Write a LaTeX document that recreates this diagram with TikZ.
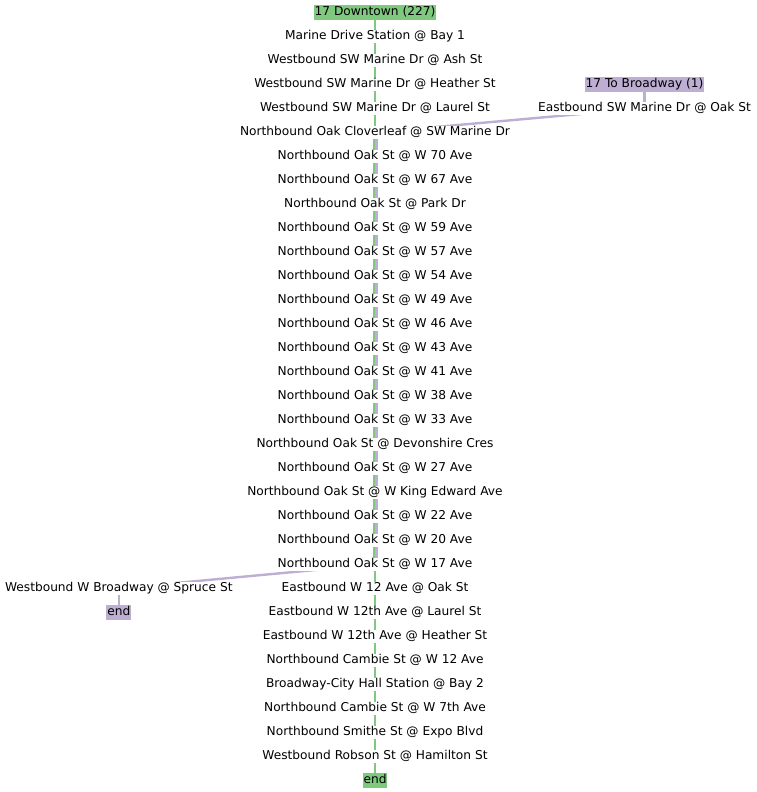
\documentclass[tikz,border=0pt]{standalone}
\usepackage{fontspec}
\setmainfont{DejaVu Sans}
\usetikzlibrary{backgrounds}
\definecolor{rgreen}{HTML}{7FC97F}
\definecolor{rpurple}{HTML}{BEAED4}
\begin{document}
\begin{tikzpicture}[x=1pt,y=-1pt,
  stop/.style={fill=white, inner xsep=1pt, inner ysep=0.3pt, text height=9.2pt, text depth=2.9pt, font=\fontsize{12.2pt}{14pt}\selectfont},
  glabel/.style={stop, inner ysep=1.5pt, fill=rgreen},
  plabel/.style={stop, inner ysep=1.5pt, fill=rpurple},
  gline/.style={draw=rgreen, line width=2.4pt},
  pline/.style={draw=rpurple, line width=2.4pt}]
\useasboundingbox (0,0) rectangle (756,792);
\begin{scope}[yshift=-0.8pt]
\node[glabel] (n0) at (375,11.5) {17 Downtown (227)};
\node[stop] (n1) at (375,35.5) {Marine Drive Station @ Bay 1};
\node[stop] (n2) at (375,59.5) {Westbound SW Marine Dr @ Ash St};
\node[stop] (n3) at (375,83.5) {Westbound SW Marine Dr @ Heather St};
\node[stop] (n4) at (375,107.5) {Westbound SW Marine Dr @ Laurel St};
\node[stop] (n5) at (375,131.5) {Northbound Oak Cloverleaf @ SW Marine Dr};
\node[stop] (n6) at (375,155.5) {Northbound Oak St @ W 70 Ave};
\node[stop] (n7) at (375,179.5) {Northbound Oak St @ W 67 Ave};
\node[stop] (n8) at (375,203.5) {Northbound Oak St @ Park Dr};
\node[stop] (n9) at (375,227.5) {Northbound Oak St @ W 59 Ave};
\node[stop] (n10) at (375,251.5) {Northbound Oak St @ W 57 Ave};
\node[stop] (n11) at (375,275.5) {Northbound Oak St @ W 54 Ave};
\node[stop] (n12) at (375,299.5) {Northbound Oak St @ W 49 Ave};
\node[stop] (n13) at (375,323.5) {Northbound Oak St @ W 46 Ave};
\node[stop] (n14) at (375,347.5) {Northbound Oak St @ W 43 Ave};
\node[stop] (n15) at (375,371.5) {Northbound Oak St @ W 41 Ave};
\node[stop] (n16) at (375,395.5) {Northbound Oak St @ W 38 Ave};
\node[stop] (n17) at (375,419.5) {Northbound Oak St @ W 33 Ave};
\node[stop] (n18) at (375,443.5) {Northbound Oak St @ Devonshire Cres};
\node[stop] (n19) at (375,467.5) {Northbound Oak St @ W 27 Ave};
\node[stop] (n20) at (375,491.5) {Northbound Oak St @ W King Edward Ave};
\node[stop] (n21) at (375,515.5) {Northbound Oak St @ W 22 Ave};
\node[stop] (n22) at (375,539.5) {Northbound Oak St @ W 20 Ave};
\node[stop] (n23) at (375,563.5) {Northbound Oak St @ W 17 Ave};
\node[stop] (n24) at (375,587.5) {Eastbound W 12 Ave @ Oak St};
\node[stop] (n25) at (375,611.5) {Eastbound W 12th Ave @ Laurel St};
\node[stop] (n26) at (375,635.5) {Eastbound W 12th Ave @ Heather St};
\node[stop] (n27) at (375,659.5) {Northbound Cambie St @ W 12 Ave};
\node[stop] (n28) at (375,683.5) {Broadway-City Hall Station @ Bay 2};
\node[stop] (n29) at (375,707.5) {Northbound Cambie St @ W 7th Ave};
\node[stop] (n30) at (375,731.5) {Northbound Smithe St @ Expo Blvd};
\node[stop] (n31) at (375,755.5) {Westbound Robson St @ Hamilton St};
\node[glabel] (n32) at (375,779.5) {end};
\node[plabel] (p0) at (644.5,83.5) {17 To Broadway (1)};
\node[stop] (p1) at (644.5,107.5) {Eastbound SW Marine Dr @ Oak St};
\node[stop] (p2) at (118.8,587.5) {Westbound W Broadway @ Spruce St};
\node[plabel] (p3) at (118.8,611.5) {end};
\end{scope}
\begin{scope}[on background layer]
\foreach \i [evaluate=\i as \j using int(\i+1)] in {0,...,31} {
  \ifnum\i<5 \def\s{0}\else\ifnum\i<23 \def\s{-1.3}\else\def\s{0}\fi\fi
  \draw[gline] ([xshift=\s pt]n\i.center) -- ([xshift=\s pt]n\j.center);
}
\draw[pline] (p0.center) -- (p1.center);
\draw[pline] (p1.center) -- ([xshift=1.3pt]n5.center);
\foreach \i [evaluate=\i as \j using int(\i+1)] in {5,...,22} {
  \draw[pline] ([xshift=1.3pt]n\i.center) -- ([xshift=1.3pt]n\j.center);
}
\draw[pline] ([xshift=1.3pt]n23.center) -- (p2.center);
\draw[pline] (p2.center) -- (p3.center);
\end{scope}
\end{tikzpicture}
\end{document}
